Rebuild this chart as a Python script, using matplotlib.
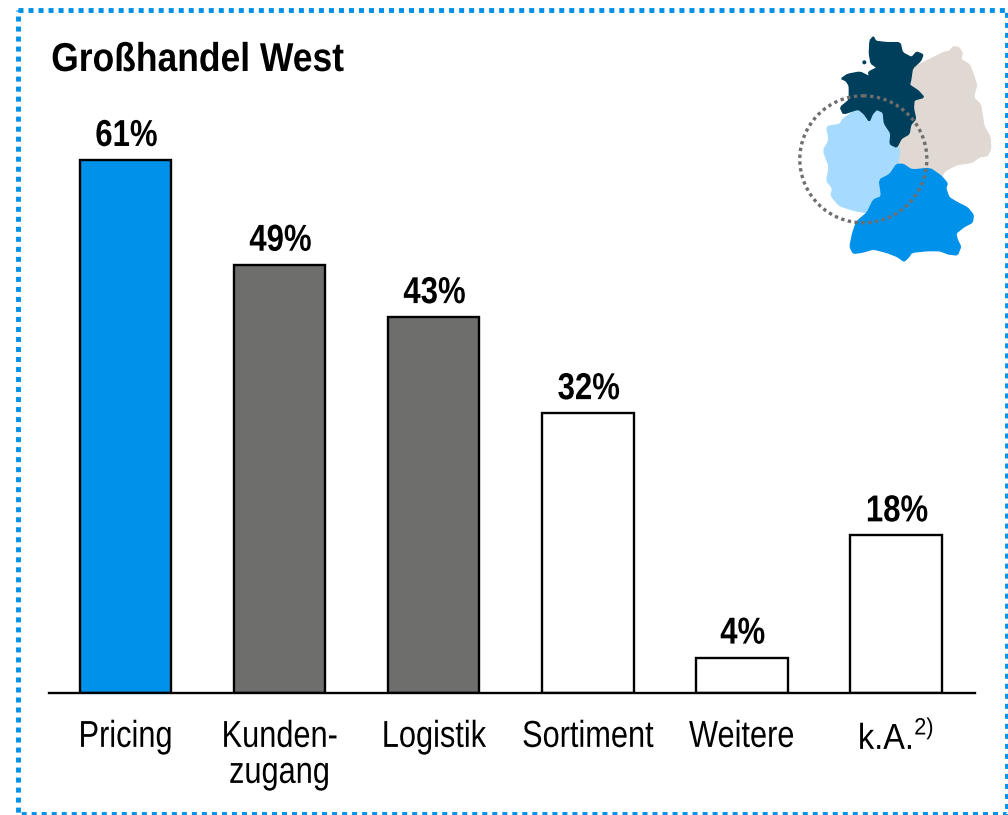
import matplotlib
matplotlib.use("Agg")
import matplotlib.pyplot as plt
from matplotlib.patches import Polygon, Circle, Rectangle
from matplotlib.patheffects import AbstractPathEffect
from matplotlib.transforms import Affine2D, ScaledTranslation

plt.rcParams['font.family'] = ['Liberation Sans', 'DejaVu Sans']

title = "Großhandel West"
categories = ["Pricing", "Kunden-\nzugang", "Logistik", "Sortiment", "Weitere", "k.A."]
values = [61, 49, 43, 32, 4, 18]
bar_colors = ["#0091EA", "#6E6E6C", "#6E6E6C", "#FFFFFF", "#FFFFFF", "#FFFFFF"]
footnote = "2)"


class Condense(AbstractPathEffect):
    """Narrows real text horizontally around its left edge or centre."""
    def __init__(self, sx, anchor="center"):
        super().__init__()
        self.sx, self.anchor = sx, anchor

    def draw_path(self, renderer, gc, tpath, affine, rgbFace=None):
        box = tpath.transformed(affine).get_extents()
        cx = box.x0 if self.anchor == "left" else 0.5 * (box.x0 + box.x1)
        t = affine + Affine2D().translate(-cx, 0).scale(self.sx, 1).translate(cx, 0)
        renderer.draw_path(gc, tpath, t, rgbFace)


W, H = 1008, 815
fig = plt.figure(figsize=(W/100, H/100), dpi=100, facecolor="white")

# overlay in pixel coordinates for border and map
bg = fig.add_axes([0, 0, 1, 1])
bg.set_xlim(0, W); bg.set_ylim(H, 0); bg.axis("off")
bg.add_patch(Rectangle((17.5, 10), 989, 804, fill=False, ec="#0091EA", lw=3.5,
                       linestyle=(0, (1.03, 1.03)), clip_on=False))

north = [(270,62),(280,50),(287,64),(320,68),(360,68),(367,98),(395,113),(410,96),(429,104),(422,122),(397,145),(392,180),(388,195),(415,213),(432,232),(402,240),(400,265),(407,297),(392,314),(387,342),(364,355),(350,382),(330,372),(333,340),(313,310),(310,277),(290,268),(277,282),(268,304),(253,282),(235,267),(190,282),(181,262),(208,240),(208,197),(198,182),(184,176),(203,163),(240,156),(268,170),(266,156),(292,143),(273,130),(268,100)]
east = [(395,145),(420,133),(440,123),(470,108),(490,98),(510,93),(520,80),(537,83),(547,100),(542,118),(567,133),(577,155),(590,195),(580,232),(602,255),(607,290),(612,320),(630,350),(632,387),(622,407),(600,410),(575,427),(530,434),(495,452),(483,470),(450,445),(395,450),(368,435),(350,435),(360,395),(348,380),(362,355),(385,340),(390,312),(405,295),(398,265),(400,240),(430,232),(388,195),(392,180)]
west = [(188,298),(235,265),(255,280),(268,302),(275,280),(290,268),(310,275),(315,310),(335,340),(332,370),(360,385),(352,435),(330,465),(300,480),(305,530),(280,540),(262,578),(225,572),(178,557),(153,527),(158,505),(140,482),(148,440),(130,392),(148,360),(140,320),(180,313)]
south = [(350,433),(370,433),(395,450),(450,445),(483,468),(502,490),(497,505),(507,533),(532,548),(562,563),(580,585),(577,607),(552,620),(527,640),(532,660),(542,680),(532,705),(505,702),(480,692),(440,692),(395,697),(385,712),(372,724),(353,710),(320,697),(280,687),(245,697),(220,700),(210,680),(218,640),(230,605),(262,578),(280,540),(305,530),(298,480),(330,463)]


def px(pts):
    return [(780 + x/3, 20 + y/3) for x, y in pts]


def rounded(pts):
    out = []
    for i, (x0, y0) in enumerate(pts):
        x1, y1 = pts[(i + 1) % len(pts)]
        out += [(0.86*x0 + 0.14*x1, 0.86*y0 + 0.14*y1), (0.14*x0 + 0.86*x1, 0.14*y0 + 0.86*y1)]
    return out


for pts, c in ((east, "#E0D8D2"), (west, "#A6DBFF"), (south, "#0091EA"), (north, "#003F5C")):
    bg.add_patch(Polygon(px(rounded(pts)), closed=True, fc=c, ec=c, lw=1.0, joinstyle="round"))
bg.add_patch(Circle((780 + 253/3, 20 + 127/3), 2, fc="#003F5C", ec="none"))
bg.add_patch(Circle((863.3, 159.3), 63.5, fill=False, ec="#6E6E6C", lw=2.4,
                    linestyle=(0, (1, 1.05))))

t = bg.text(51, 71, title, fontsize=29, fontweight="bold", va="baseline", ha="left", color="black")
t.set_path_effects([Condense(0.88, "left")])

# bar chart
top_px = 100
ax = fig.add_axes([49/W, 1 - 692.5/H, (975-49)/W, (692.5-top_px)/H])
ax.patch.set_alpha(0)
ax.set_xlim(-0.496, 5.513)
ax.set_ylim(0, (692.5-top_px)/8.73)
x = list(range(len(values)))
bars = ax.bar(x, values, width=0.595, color=bar_colors, edgecolor="black", linewidth=1.7)
for xi, v in zip(x, values):
    a = ax.annotate(f"{v}%", (xi, v), xytext=(1, 6), textcoords="offset pixels",
                    ha="center", va="bottom", fontsize=27, fontweight="bold", color="black")
    a.set_path_effects([Condense(0.83)])
for s in ("top", "left", "right"):
    ax.spines[s].set_visible(False)
ax.spines["bottom"].set_linewidth(1.7)
ax.set_yticks([])
ax.set_xticks(x)
ax.set_xticklabels(categories, fontsize=27, linespacing=1.0, ha="center", va="top")
ax.tick_params(axis="x", length=0, pad=19)
labels = ax.get_xticklabels()
for lab in labels:
    lab.set_path_effects([Condense(0.82)])
labels[5].set_fontsize(26)
labels[5].set_path_effects([Condense(0.9)])
labels[5].set_transform(labels[5].get_transform() + ScaledTranslation(-10/100, -3/100, fig.dpi_scale_trans))
f = ax.annotate(footnote, (5, 0), xytext=(28, -36), textcoords="offset pixels",
                fontsize=17, ha="center", va="center", color="black", annotation_clip=False)
f.set_path_effects([Condense(0.92)])

fig.savefig("out.png", dpi=100)
